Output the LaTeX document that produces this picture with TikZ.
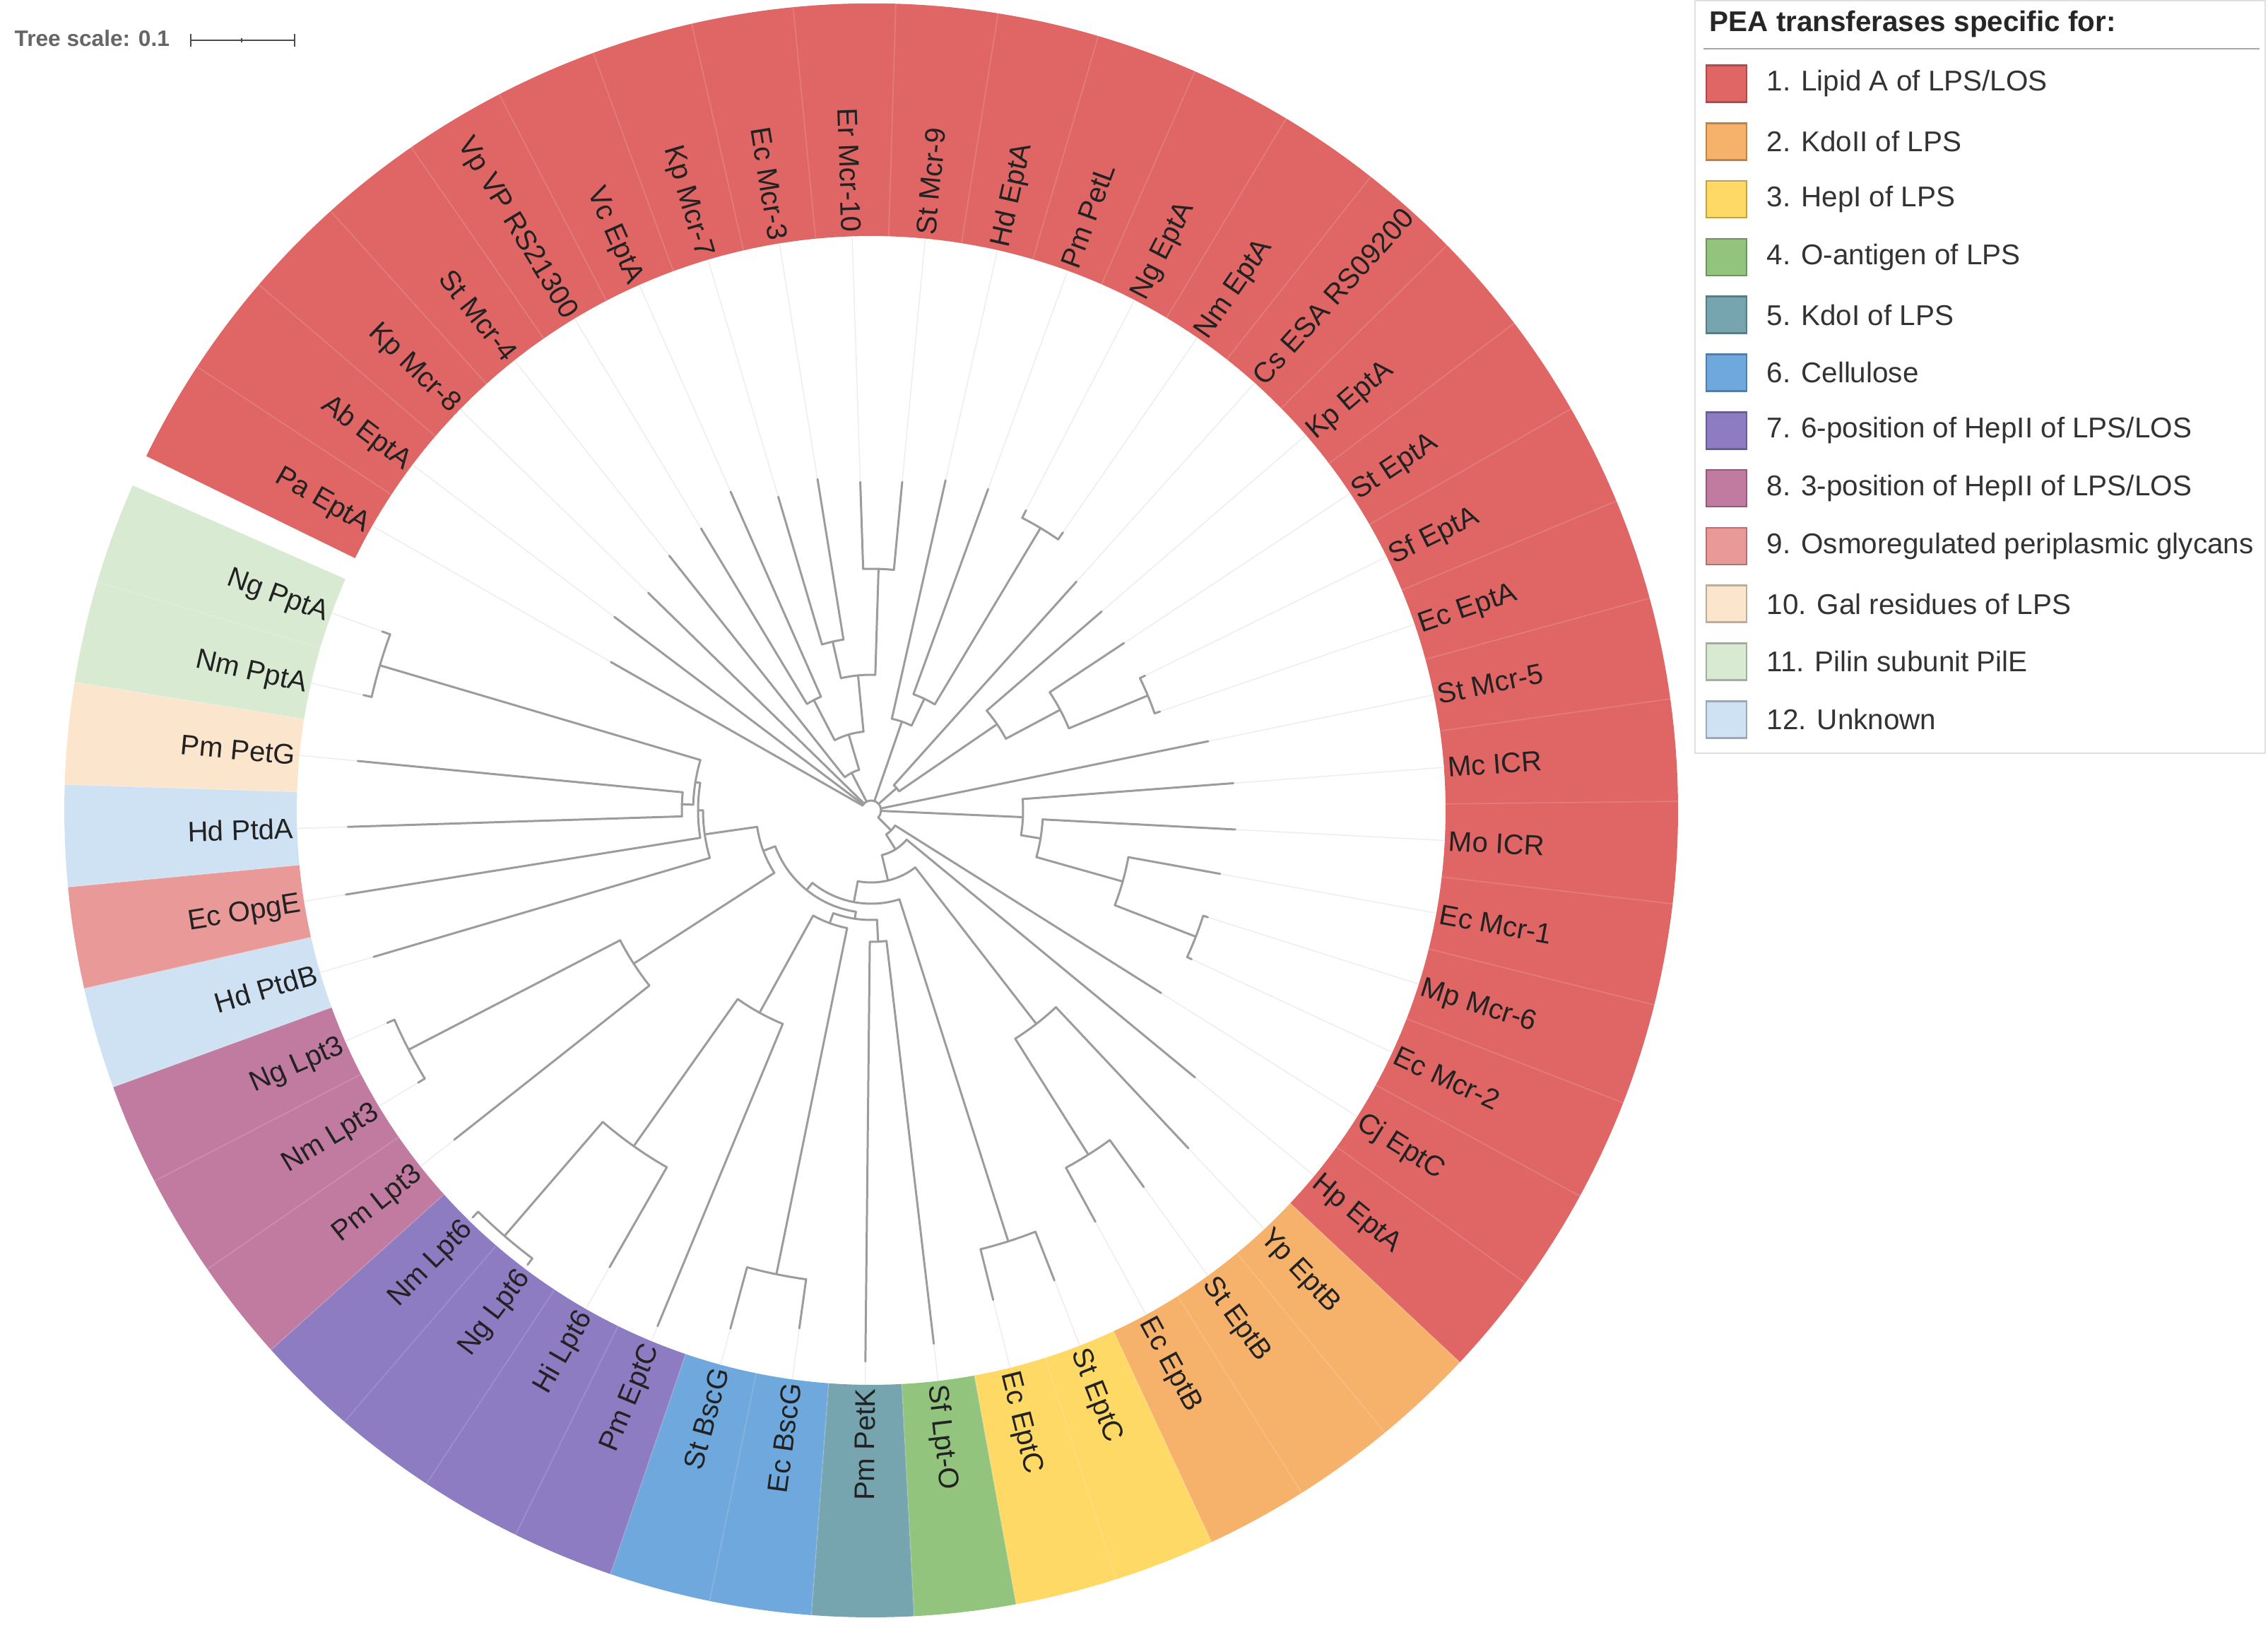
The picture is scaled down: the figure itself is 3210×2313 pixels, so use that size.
\documentclass[tikz,border=0pt]{standalone}
\usepackage{fontspec}
\setmainfont{Liberation Sans}
\definecolor{cA}{HTML}{E06666}
\definecolor{cB}{HTML}{F6B26B}
\definecolor{cC}{HTML}{FFD966}
\definecolor{cD}{HTML}{93C47D}
\definecolor{cE}{HTML}{76A5AF}
\definecolor{cF}{HTML}{6FA8DC}
\definecolor{cG}{HTML}{8E7CC3}
\definecolor{cH}{HTML}{C27BA0}
\definecolor{cI}{HTML}{EA9999}
\definecolor{cJ}{HTML}{FCE5CD}
\definecolor{cK}{HTML}{D9EAD3}
\definecolor{cL}{HTML}{CFE2F3}
\definecolor{brc}{HTML}{9C9C9C}
\definecolor{txt}{HTML}{222222}
\tikzset{
  branch/.style={draw=brc, line width=0.85pt, line cap=round},
  guide/.style={draw=black!7, line width=0.4pt},
  sepline/.style={draw=white, draw opacity=0.14, line width=0.5pt},
  lab/.style={font=\fontsize{11.4}{13}\selectfont, text=txt, inner sep=0pt, text height=8.2pt, text depth=0pt},
  legtxt/.style={font=\fontsize{11.5}{13}\selectfont, text=black!80, inner sep=0pt, anchor=west},
  swatch/.style={line width=0.7pt, minimum width=5.7mm, minimum height=5.2mm, inner sep=0pt}
}
\newcommand\sector[3]{\fill[#1] (#2:813) arc[start angle=#2,end angle=#3,radius=813] -- (#3:1142) arc[start angle=#3,end angle=#2,radius=1142] -- cycle;}
\newcommand\leafR[5]{%
  \coordinate (#1b) at (#2:#3);
  \coordinate (#1) at (#2:#4);
  \draw[guide] (#1) -- (#2:813);
  \draw[branch] (#1b) -- (#1);
  \node[lab,anchor=west,rotate=#2] (#1t) at (#2:818) {#5};}
\newcommand\leafL[5]{%
  \coordinate (#1b) at (#2:#3);
  \coordinate (#1) at (#2:#4);
  \draw[guide] (#1) -- (#2:813);
  \draw[branch] (#1b) -- (#1);
  \node[lab,anchor=east,rotate=#2+180] (#1t) at (#2:818) {#5};}
\newcommand\inode[6]{%
  \coordinate (#1b) at (#2:#3);
  \coordinate (#1) at (#2:#4);
  \draw[branch] (#1b) -- (#1);
  \draw[branch] (#5:#4) arc[start angle=#5,end angle=#6,radius=#4];}
\begin{document}
\begin{tikzpicture}[x=0.1mm,y=0.1mm]
\useasboundingbox (-1233,-1166) rectangle (1977,1147);
\fill[white] (-1233,-1166) rectangle (1977,1147);
% ---------- coloured ring ----------
\sector{cA}{-43.15}{153.95}
\sector{cB}{-65.05}{-43.15}
\sector{cC}{-79.65}{-65.05}
\sector{cD}{-86.95}{-79.65}
\sector{cE}{-94.25}{-86.95}
\sector{cF}{-108.85}{-94.25}
\sector{cG}{-138.05}{-108.85}
\sector{cH}{-159.95}{-138.05}
\sector{cL}{-167.25}{-159.95}
\sector{cI}{-174.55}{-167.25}
\sector{cL}{-181.85}{-174.55}
\sector{cJ}{-189.15}{-181.85}
\sector{cK}{-203.75}{-189.15}
\foreach \i in {0,...,47}{\draw[sepline] ({150.3-7.3*\i-3.65}:813) -- ({150.3-7.3*\i-3.65}:1142);}
% ---------- internal nodes ----------
\draw[branch] (-45.1:14) arc[start angle=-45.1,end angle=150.3,radius=14];
\inode{A1}{88.25}{192}{342}{84.6}{91.9}
\inode{A2}{102.85}{192}{245}{99.2}{106.5}
\inode{A3}{95.55}{112}{192}{88.25}{102.85}
\inode{A4}{117.45}{112}{176}{113.8}{121.1}
\inode{A5}{106.5}{60}{112}{95.55}{117.45}
\inode{A6}{117.45}{14}{60}{106.5}{128.4}
\inode{B1}{59.05}{175}{466}{55.4}{62.7}
\inode{B2}{64.525}{133}{175}{59.05}{70.0}
\inode{B3}{70.91}{14}{133}{64.525}{77.3}
\inode{C1}{22.55}{303}{424}{18.9}{26.2}
\inode{C2}{28.025}{216}{303}{22.55}{33.5}
\inode{C3}{34.41}{48}{216}{28.025}{40.8}
\inode{C4}{41.26}{14}{48}{34.41}{48.1}
\inode{D1}{-21.25}{370}{493}{-24.9}{-17.6}
\inode{D2}{-15.775}{243}{370}{-21.25}{-10.3}
\inode{D3}{-9.39}{215}{243}{-15.775}{-3.0}
\inode{D4}{-2.54}{14}{215}{-9.39}{4.3}
\inode{E1}{-57.75}{382}{576}{-61.4}{-54.1}
\inode{E2}{-52.275}{102}{382}{-57.75}{-46.8}
\inode{F1}{-72.35}{132}{640}{-76.0}{-68.7}
\inode{G1}{-86.95}{155}{186}{-90.6}{-83.3}
\inode{H1}{-101.55}{170}{670}{-105.2}{-97.9}
\inode{I1}{-130.75}{582}{795}{-134.4}{-127.1}
\inode{I2}{-125.275}{327}{582}{-130.75}{-119.8}
\inode{I3}{-118.89}{170}{327}{-125.275}{-112.5}
\inode{N7}{-110.22}{155}{170}{-118.89}{-101.55}
\inode{N6}{-98.585}{145}{155}{-110.22}{-86.95}
\inode{J1}{-152.65}{400}{737}{-156.3}{-149.0}
\inode{J2}{-147.175}{163}{400}{-152.65}{-141.7}
\inode{K1}{-196.45}{252}{725}{-200.1}{-192.8}
\inode{K2}{-181.85}{252}{268}{-185.5}{-178.2}
\inode{K3}{-189.15}{245}{252}{-196.45}{-181.85}
\inode{K4}{-180.025}{238}{245}{-189.15}{-170.9}
\inode{K5}{-171.81}{163}{238}{-180.025}{-163.6}
\inode{N9}{-159.49}{145}{163}{-171.81}{-147.175}
\inode{N5}{-129.04}{132}{145}{-159.49}{-98.585}
\inode{N4}{-100.7}{102}{132}{-129.04}{-72.35}
\inode{N3}{-76.49}{65}{102}{-100.7}{-52.275}
\inode{N1}{-57.99}{40}{65}{-76.49}{-39.5}
\inode{N2}{-45.1}{14}{40}{-57.99}{-32.2}
% ---------- leaves ----------
\leafL{L0}{150.3}{14}{424}{Pa EptA}
\leafL{L1}{143.0}{14}{455}{Ab EptA}
\leafL{L2}{135.7}{14}{441}{Kp Mcr-8}
\leafL{L3}{128.4}{60}{460}{St Mcr-4}
\leafL{L4}{121.1}{176}{466}{Vp VP RS21300}
\leafL{L5}{113.8}{176}{493}{Vc EptA}
\leafL{L6}{106.5}{245}{463}{Kp Mcr-7}
\leafL{L7}{99.2}{245}{475}{Ec Mcr-3}
\leafL{L8}{91.9}{342}{465}{Er Mcr-10}
\leafR{L9}{84.6}{342}{467}{St Mcr-9}
\leafR{L10}{77.3}{133}{479}{Hd EptA}
\leafR{L11}{70.0}{175}{484}{Pm PetL}
\leafR{L12}{62.7}{466}{478}{Ng EptA}
\leafR{L13}{55.4}{466}{478}{Nm EptA}
\leafR{L14}{48.1}{48}{435}{Cs ESA RS09200}
\leafR{L15}{40.8}{216}{431}{Kp EptA}
\leafR{L16}{33.5}{303}{429}{St EptA}
\leafR{L17}{26.2}{424}{432}{Sf EptA}
\leafR{L18}{18.9}{424}{432}{Ec EptA}
\leafR{L19}{11.6}{14}{487}{St Mcr-5}
\leafR{L20}{4.3}{215}{514}{Mc ICR}
\leafR{L21}{-3.0}{243}{516}{Mo ICR}
\leafR{L22}{-10.3}{370}{502}{Ec Mcr-1}
\leafR{L23}{-17.6}{493}{500}{Mp Mcr-6}
\leafR{L24}{-24.9}{493}{500}{Ec Mcr-2}
\leafR{L25}{-32.2}{40}{485}{Cj EptC}
\leafR{L26}{-39.5}{65}{594}{Hp EptA}
\leafR{L27}{-46.8}{382}{656}{Yp EptB}
\leafR{L28}{-54.1}{576}{658}{St EptB}
\leafR{L29}{-61.4}{576}{663}{Ec EptB}
\leafR{L30}{-68.7}{640}{714}{St EptC}
\leafR{L31}{-76.0}{640}{714}{Ec EptC}
\leafR{L32}{-83.3}{186}{760}{Sf Lpt-O}
\leafL{L33}{-90.6}{186}{780}{Pm PetK}
\leafL{L34}{-97.9}{670}{740}{Ec BscG}
\leafL{L35}{-105.2}{670}{760}{St BscG}
\leafL{L36}{-112.5}{327}{790}{Pm EptC}
\leafL{L37}{-119.8}{582}{745}{Hi Lpt6}
\leafL{L38}{-127.1}{795}{806}{Ng Lpt6}
\leafL{L39}{-134.4}{795}{806}{Nm Lpt6}
\leafL{L40}{-141.7}{400}{752}{Pm Lpt3}
\leafL{L41}{-149.0}{737}{748}{Nm Lpt3}
\leafL{L42}{-156.3}{737}{748}{Ng Lpt3}
\leafL{L43}{-163.6}{238}{734}{Hd PtdB}
\leafL{L44}{-170.9}{245}{753}{Ec OpgE}
\leafL{L45}{-178.2}{268}{741}{Hd PtdA}
\leafL{L46}{-185.5}{268}{730}{Pm PetG}
\leafL{L47}{-192.8}{725}{737}{Nm PptA}
\leafL{L48}{-200.1}{725}{737}{Ng PptA}
% ---------- tree scale ----------
\node[font=\bfseries\fontsize{9}{11}\selectfont, text=black!60, anchor=west, inner sep=0pt] (ts) at (-1213,1093) {Tree scale: 0.1};
\coordinate (sb1) at (-963,1090);
\coordinate (sb2) at (-816,1090);
\draw[black!70, line width=0.8pt] (sb1) -- (sb2);
\draw[black!70, line width=0.8pt] ([yshift=-0.9mm]sb1) -- ([yshift=0.9mm]sb1);
\draw[black!70, line width=0.8pt] ([yshift=-0.9mm]sb2) -- ([yshift=0.9mm]sb2);
\draw[black!70, line width=0.6pt] (-891,1087) -- (-891,1093);
% ---------- legend ----------
\draw[black!12, line width=0.6pt, fill=white] (1166,1146) rectangle (1973,81);
\node[font=\bfseries\fontsize{11.5}{13}\selectfont, text=black!85, anchor=west, inner sep=0pt] (lt) at (1186,1113) {PEA transferases specific for:};
\draw[black!35, line width=0.8pt] (1178,1078) -- (1965,1078);
\foreach \k/\c/\t in {1/cA/{1. Lipid A of LPS/LOS},2/cB/{2. KdoII of LPS},3/cC/{3. HepI of LPS},4/cD/{4. O-antigen of LPS},5/cE/{5. KdoI of LPS},6/cF/{6. Cellulose},7/cG/{7. 6-position of HepII of LPS/LOS},8/cH/{8. 3-position of HepII of LPS/LOS},9/cI/{9. Osmoregulated periplasmic glycans},10/cJ/{10. Gal residues of LPS},11/cK/{11. Pilin subunit PilE},12/cL/{12. Unknown}}{
  \node[swatch, fill=\c, draw=\c!75!black] (sw\k) at (1210.5,{1028.5-81.8*(\k-1)}) {};
  \node[legtxt] (lg\k) at (1267,{1028.5-81.8*(\k-1)}) {\t};
}
\end{tikzpicture}
\end{document}
